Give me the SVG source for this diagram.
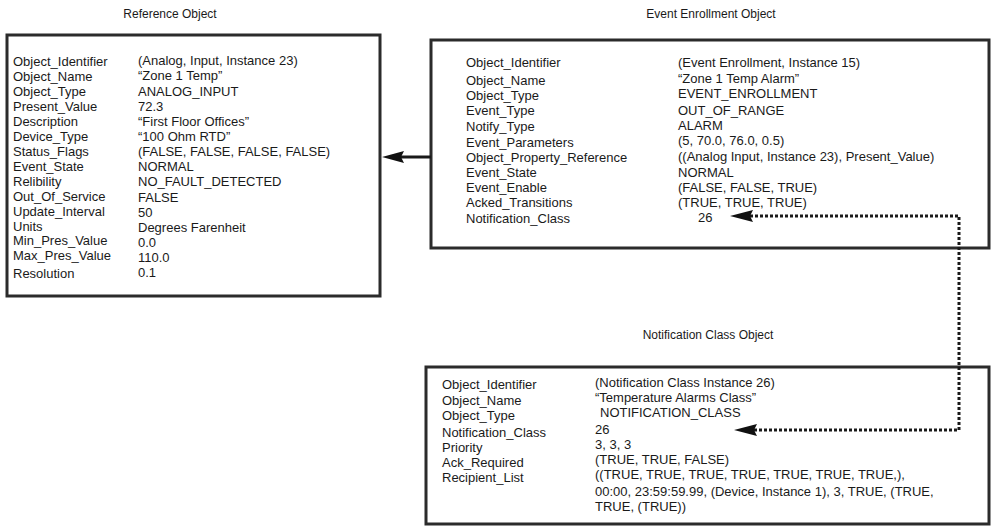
<svg xmlns="http://www.w3.org/2000/svg" width="992" height="529" viewBox="0 0 992 529">
<style>
text{font-family:"Liberation Sans",Arial,sans-serif;fill:#1a1a1a}
.t{font-size:12px}
.b{font-size:13px}
.box{fill:#fff;stroke:#2b2b2b;stroke-width:3}
.solid{stroke:#1a1a1a;stroke-width:3;fill:none}
.dash{stroke:#1a1a1a;stroke-width:3;fill:none;stroke-dasharray:3 2}
.head{fill:#111}
</style>
<rect width="992" height="529" fill="#fff"/>
<text class="t" x="170" y="18" text-anchor="middle">Reference Object</text>
<text class="t" x="711" y="18" text-anchor="middle">Event Enrollment Object</text>
<text class="t" x="708" y="339" text-anchor="middle">Notification Class Object</text>

<g id="reference-object">
<rect class="box" x="7" y="35" width="373" height="261"/>
<g class="b">
<text x="13" y="66">Object_Identifier</text>
<text x="13" y="81">Object_Name</text>
<text x="13" y="96">Object_Type</text>
<text x="13" y="111">Present_Value</text>
<text x="13" y="126">Description</text>
<text x="13" y="141">Device_Type</text>
<text x="13" y="155.5">Status_Flags</text>
<text x="13" y="170.5">Event_State</text>
<text x="13" y="185.5">Relibility</text>
<text x="13" y="200.5">Out_Of_Service</text>
<text x="13" y="215.5">Update_Interval</text>
<text x="13" y="230.5">Units</text>
<text x="13" y="245">Min_Pres_Value</text>
<text x="13" y="260">Max_Pres_Value</text>
<text x="13" y="278">Resolution</text>
<text x="138" y="64.5">(Analog, Input, Instance 23)</text>
<text x="138" y="80">“Zone 1 Temp”</text>
<text x="138" y="95.5">ANALOG_INPUT</text>
<text x="138" y="111">72.3</text>
<text x="138" y="126">“First Floor Offices”</text>
<text x="138" y="141">“100 Ohm RTD”</text>
<text x="138" y="156">(FALSE, FALSE, FALSE, FALSE)</text>
<text x="138" y="171">NORMAL</text>
<text x="138" y="186">NO_FAULT_DETECTED</text>
<text x="138" y="202">FALSE</text>
<text x="138" y="217">50</text>
<text x="138" y="232">Degrees Farenheit</text>
<text x="138" y="247">0.0</text>
<text x="138" y="262">110.0</text>
<text x="138" y="277">0.1</text>
</g>
</g>

<g id="event-enrollment-object">
<rect class="box" x="431" y="40" width="558" height="208"/>
<g class="b">
<text x="466" y="67">Object_Identifier</text>
<text x="466" y="85">Object_Name</text>
<text x="466" y="100">Object_Type</text>
<text x="466" y="115">Event_Type</text>
<text x="466" y="131">Notify_Type</text>
<text x="466" y="146.5">Event_Parameters</text>
<text x="466" y="161.5">Object_Property_Reference</text>
<text x="466" y="177">Event_State</text>
<text x="466" y="192">Event_Enable</text>
<text x="466" y="207">Acked_Transitions</text>
<text x="466" y="222.5">Notification_Class</text>
<text x="678" y="67">(Event Enrollment, Instance 15)</text>
<text x="678" y="82.5">“Zone 1 Temp Alarm”</text>
<text x="678" y="97.5">EVENT_ENROLLMENT</text>
<text x="678" y="115">OUT_OF_RANGE</text>
<text x="678" y="130">ALARM</text>
<text x="678" y="145">(5, 70.0, 76.0, 0.5)</text>
<text x="678" y="161">((Analog Input, Instance 23), Present_Value)</text>
<text x="678" y="177">NORMAL</text>
<text x="678" y="192">(FALSE, FALSE, TRUE)</text>
<text x="678" y="207">(TRUE, TRUE, TRUE)</text>
<text x="698" y="222">26</text>
</g>
</g>

<g id="notification-class-object">
<rect class="box" x="426" y="367" width="563" height="157"/>
<g class="b">
<text x="442" y="389">Object_Identifier</text>
<text x="442" y="404.5">Object_Name</text>
<text x="442" y="419.5">Object_Type</text>
<text x="442" y="437">Notification_Class</text>
<text x="442" y="452">Priority</text>
<text x="442" y="467">Ack_Required</text>
<text x="442" y="482">Recipient_List</text>
<text x="595" y="386.5">(Notification Class Instance 26)</text>
<text x="595" y="401.5">“Temperature Alarms Class”</text>
<text x="600" y="416.5">NOTIFICATION_CLASS</text>
<text x="595" y="433.5">26</text>
<text x="595" y="449">3, 3, 3</text>
<text x="595" y="464">(TRUE, TRUE, FALSE)</text>
<text x="595" y="479">((TRUE, TRUE, TRUE, TRUE, TRUE, TRUE, TRUE,),</text>
<text x="595" y="496">00:00, 23:59:59.99, (Device, Instance 1), 3, TRUE, (TRUE,</text>
<text x="595" y="511">TRUE, (TRUE))</text>
</g>
</g>

<g id="connectors">
<line class="solid" x1="431" y1="157" x2="398" y2="157"/>
<polygon class="head" points="382,157 404,151 401,157 404,163"/>
<path class="dash" d="M750 216 H959 V430 H754"/>
<polygon class="head" points="730,216 753,210 750,216 753,222"/>
<polygon class="head" points="734,430 757,424 754,430 757,436"/>
</g>
</svg>
